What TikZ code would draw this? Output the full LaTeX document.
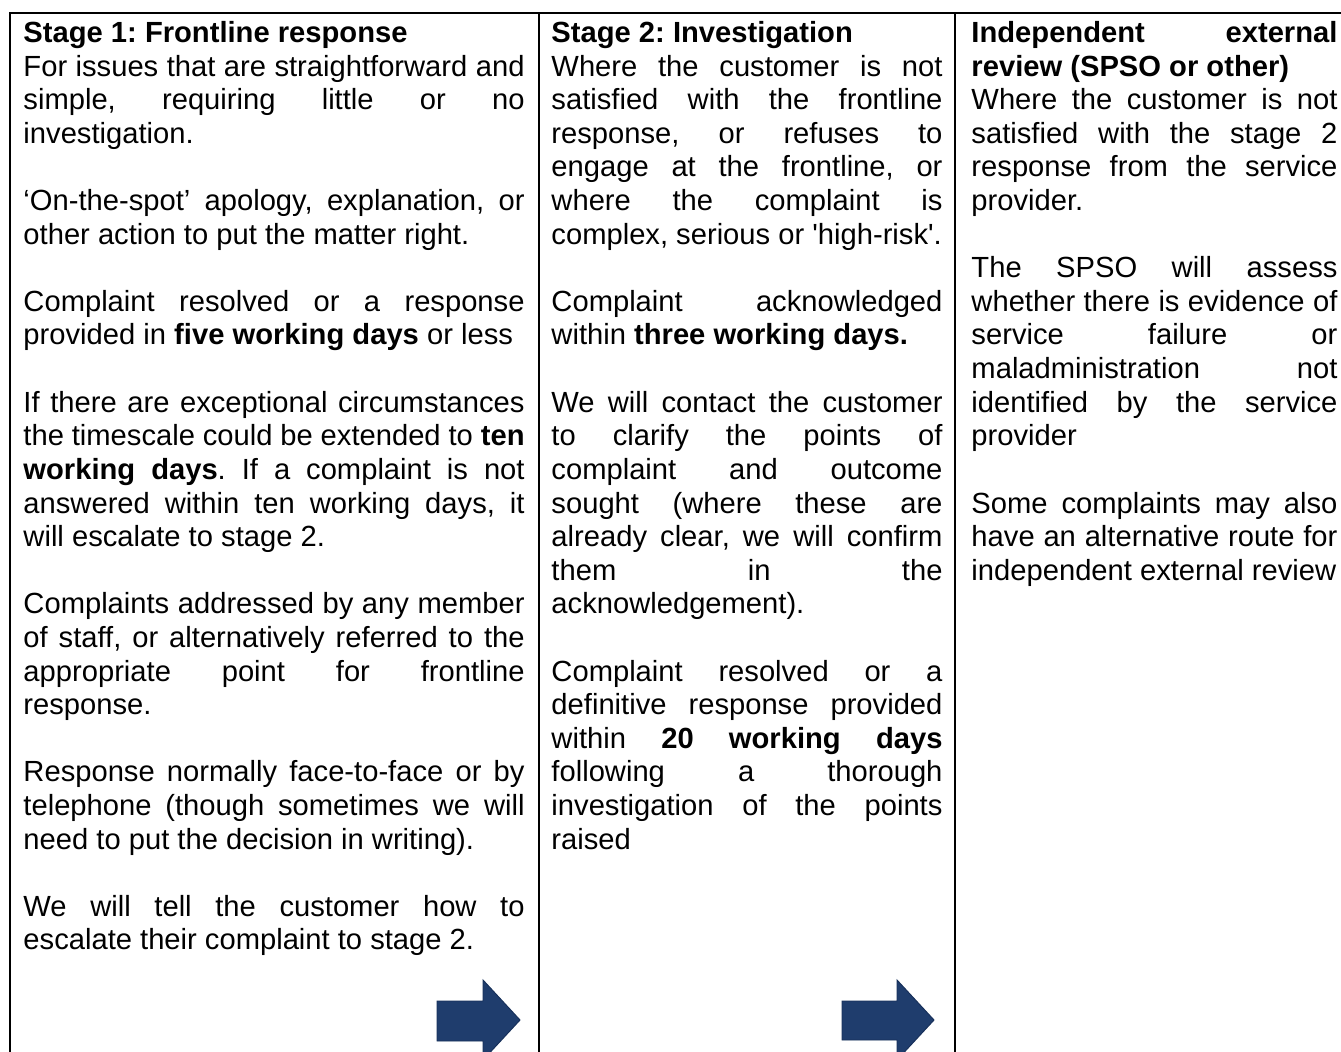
\documentclass[tikz,border=0pt]{standalone}
\usepackage{fontspec}
\setmainfont{Liberation Sans}[Ligatures=TeXOff]
\definecolor{arrowblue}{HTML}{1F3D6D}
\definecolor{arrowedge}{HTML}{17305A}
\newcommand{\bd}{\textbf}
\newcommand{\skipline}{\par\vspace{\baselineskip}}
\tolerance=10000
\hbadness=10000
\hyphenpenalty=10000
\exhyphenpenalty=10000
\frenchspacing
\setlength{\parindent}{0pt}

\begin{document}
\begin{tikzpicture}[x=0.4115pt, y=-0.4115pt,
  col/.style={anchor=base west, inner sep=0pt, align=justify, font=\fontsize{12}{13.83}\selectfont},
  rule/.style={line width=0.82pt},
  blockarrow/.style={fill=arrowblue, draw=arrowedge, line width=0.4pt, line join=miter}]
  \clip (0,0) rectangle (1341,1052);
  \draw[rule] (10,1070) -- (10,13) -- (1370,13);
  \draw[rule] (539,13) -- (539,1070);
  \draw[rule] (955,13) -- (955,1070);
  \node[col, text width=206.2pt] (stageone) at (23,42.5) {\bd{Stage 1: Frontline response}\par
    For issues that are straightforward and\linebreak simple, requiring little or no\linebreak investigation.\skipline
    ‘On-the-spot’ apology, explanation, or\linebreak other action to put the matter right.\skipline
    Complaint resolved or a response\linebreak provided in \bd{five working days} or less\skipline
    If there are exceptional circumstances\linebreak the timescale could be extended to \bd{ten}\linebreak \bd{working days}. If a complaint is not\linebreak answered within ten working days, it\linebreak will escalate to stage 2.\skipline
    Complaints addressed by any member\linebreak of staff, or alternatively referred to the\linebreak appropriate point for frontline\linebreak response.\skipline
    Response normally face-to-face or by\linebreak telephone (though sometimes we will\linebreak need to put the decision in writing).\skipline
    We will tell the customer how to\linebreak escalate their complaint to stage 2.};
  \node[col, text width=160.9pt] (stagetwo) at (551,42.5) {\bd{Stage 2: Investigation}\par
    Where the customer is not\linebreak satisfied with the frontline\linebreak response, or refuses to\linebreak engage at the frontline, or\linebreak where the complaint is\linebreak complex, serious or 'high-risk'.\skipline
    Complaint acknowledged\linebreak within \bd{three working days.}\skipline
    We will contact the customer\linebreak to clarify the points of\linebreak complaint and outcome\linebreak sought (where these are\linebreak already clear, we will confirm\linebreak them in the\linebreak acknowledgement).\skipline
    Complaint resolved or a\linebreak definitive response provided\linebreak within \bd{20 working days}\linebreak following a thorough\linebreak investigation of the points\linebreak raised};
  \node[col, text width=150.6pt] (review) at (971,42.5) {\bd{Independent external\linebreak review (SPSO or other)}\par
    Where the customer is not\linebreak satisfied with the stage 2\linebreak response from the service\linebreak provider.\skipline
    The SPSO will assess\linebreak whether there is evidence of\linebreak service failure or\linebreak maladministration not\linebreak identified by the service\linebreak provider\skipline
    Some complaints may also\linebreak have an alternative route for\linebreak independent external review};
  \draw[blockarrow] (437,1001) -- (483,1001) -- (483,980) -- (520,1020) -- (483,1060) -- (483,1041) -- (437,1041) -- cycle;
  \draw[blockarrow] (842,1001) -- (897,1001) -- (897,980) -- (934,1020) -- (897,1060) -- (897,1040) -- (842,1040) -- cycle;
\end{tikzpicture}
\end{document}
